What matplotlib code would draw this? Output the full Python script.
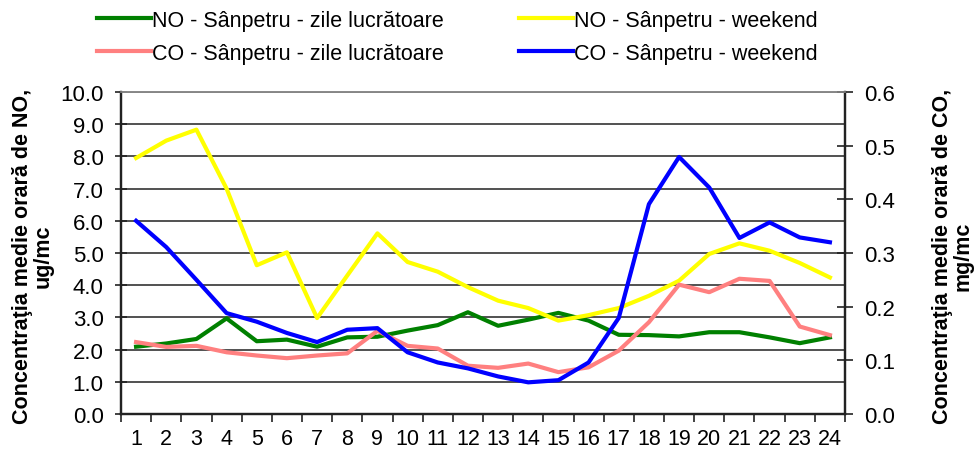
import matplotlib
matplotlib.use("Agg")
import matplotlib.pyplot as plt
from matplotlib.ticker import FixedLocator, NullFormatter, FormatStrFormatter

plt.rcParams['font.family'] = ['Liberation Sans', 'DejaVu Sans']

hours = list(range(1, 25))
hour_labels = [str(h) for h in hours]

no_workday = [2.09, 2.19, 2.33, 2.97, 2.26, 2.31, 2.09, 2.38, 2.40, 2.59, 2.76, 3.16,
              2.74, 2.93, 3.14, 2.90, 2.46, 2.45, 2.41, 2.54, 2.54, 2.38, 2.20, 2.38]
no_weekend = [7.95, 8.49, 8.83, 7.00, 4.62, 5.02, 2.98, 4.30, 5.61, 4.72, 4.42, 3.94,
              3.52, 3.29, 2.90, 3.07, 3.29, 3.67, 4.14, 4.97, 5.30, 5.07, 4.69, 4.24]
co_workday = [0.134, 0.125, 0.127, 0.115, 0.109, 0.104, 0.109, 0.113, 0.155, 0.127, 0.122, 0.090,
              0.086, 0.094, 0.078, 0.087, 0.118, 0.171, 0.241, 0.227, 0.252, 0.248, 0.163, 0.147]
co_weekend = [0.360, 0.311, 0.250, 0.188, 0.172, 0.151, 0.134, 0.157, 0.160, 0.115, 0.096, 0.085,
              0.070, 0.059, 0.063, 0.096, 0.179, 0.391, 0.479, 0.422, 0.328, 0.357, 0.329, 0.320]

labels = ["NO - Sânpetru - zile lucrătoare", "NO - Sânpetru - weekend",
          "CO - Sânpetru - zile lucrătoare", "CO - Sânpetru - weekend"]
colors = ["#008000", "#FFFF00", "#FF8080", "#0000FF"]
ylabel_left = "Concentraţia medie orară de NO,\nug/mc"
ylabel_right = "Concentraţia medie orară de CO,\nmg/mc"

left_ticks = [0.0, 1.0, 2.0, 3.0, 4.0, 5.0, 6.0, 7.0, 8.0, 9.0, 10.0]
right_ticks = [0.0, 0.1, 0.2, 0.3, 0.4, 0.5, 0.6]

fig = plt.figure(figsize=(9.76, 4.52), dpi=100)
ax = fig.add_axes([121/976, 1-415/452, (845-121)/976, (415-93)/452])
ax2 = ax.twinx()

lw = 3.0
l1, = ax.plot(hours, no_workday, color=colors[0], lw=lw, zorder=3)
l2, = ax.plot(hours, no_weekend, color=colors[1], lw=lw, zorder=3)
l3, = ax2.plot(hours, co_workday, color=colors[2], lw=lw, zorder=3)
l4, = ax2.plot(hours, co_weekend, color=colors[3], lw=lw, zorder=4)

ax.set_xlim(0.5, 24.5)
ax.set_ylim(0, 10)
ax2.set_ylim(0, 0.6)

ax.yaxis.set_major_locator(FixedLocator(left_ticks))
ax.yaxis.set_major_formatter(FormatStrFormatter('%.1f'))
ax2.yaxis.set_major_locator(FixedLocator(right_ticks))
ax2.yaxis.set_major_formatter(FormatStrFormatter('%.1f'))

ax.xaxis.set_major_locator(FixedLocator([h - 0.5 for h in hours] + [24.5]))
ax.xaxis.set_major_formatter(NullFormatter())
ax.xaxis.set_minor_locator(FixedLocator(hours))
ax.set_xticklabels(hour_labels, minor=True)

fs = 16
ax.tick_params(axis='x', which='major', direction='out', length=6, width=1.2, color='#222222')
ax.tick_params(axis='x', which='minor', length=0, labelsize=15.5, pad=10)
ax.tick_params(axis='y', direction='inout', length=9, width=1.2, labelsize=fs, pad=8, color='#222222')
ax2.tick_params(axis='y', direction='inout', length=11, width=1.2, labelsize=fs, pad=8, color='#222222')

ax.grid(axis='y', color='#222222', lw=1.1, zorder=1)
ax.set_axisbelow(True)

for a in (ax, ax2):
    for s in ('left', 'right', 'bottom'):
        a.spines[s].set_linewidth(1.6)
        a.spines[s].set_color('#222222')
    a.spines['top'].set_linewidth(1.2)
    a.spines['top'].set_color('#888888')

fig.text(33/976, 1-256/452, ylabel_left, fontsize=15.5, fontweight='bold', rotation=90,
         ha='center', va='center', multialignment='center', linespacing=0.95)
fig.text(953/976, 1-256/452, ylabel_right, fontsize=15.5, fontweight='bold', rotation=90,
         ha='center', va='center', multialignment='center', linespacing=0.95)

leg_kw = dict(loc='upper left', frameon=False, fontsize=15.5, handlelength=2.5,
              handletextpad=0.05, labelspacing=0.55, borderpad=0, borderaxespad=0)
fig.legend([l1, l3], [labels[0], labels[2]], bbox_to_anchor=(97/976, 1-11/452), **leg_kw)
fig.legend([l2, l4], [labels[1], labels[3]], bbox_to_anchor=(519/976, 1-11/452), **leg_kw)

fig.savefig("out.png", dpi=100)
